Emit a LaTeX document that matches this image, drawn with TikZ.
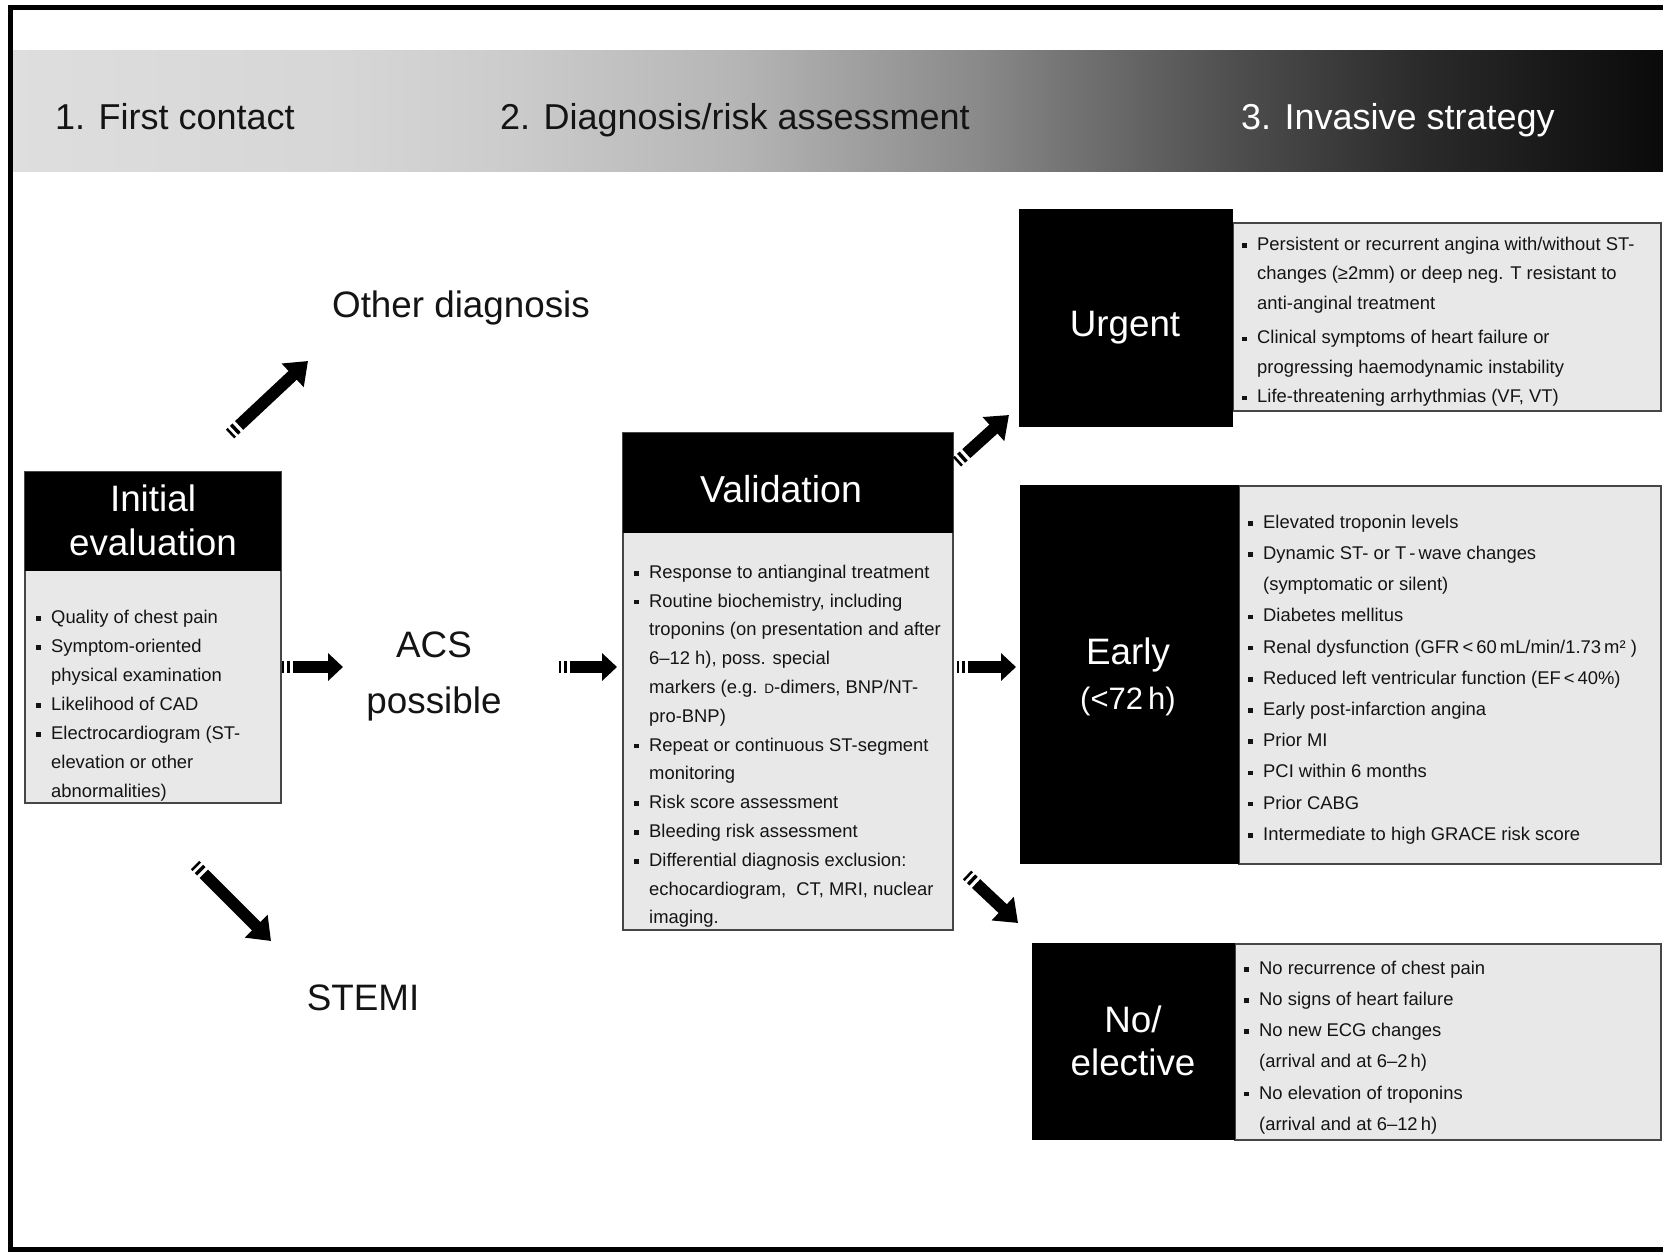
\documentclass[tikz,border=0pt]{standalone}
\usepackage{fontspec}
\setmainfont{Liberation Sans}
\usetikzlibrary{arrows.meta}
\definecolor{listfill}{RGB}{232,232,232}
\definecolor{listedge}{RGB}{70,70,70}
\definecolor{txt}{RGB}{20,20,20}
\definecolor{sA}{gray}{0.87}
\definecolor{sB}{gray}{0.84}
\definecolor{sC}{gray}{0.80}
\definecolor{sD}{gray}{0.71}
\definecolor{sE}{gray}{0.54}
\definecolor{sF}{gray}{0.46}
\definecolor{sG}{gray}{0.30}
\definecolor{sH}{gray}{0.17}
\definecolor{sI}{gray}{0.09}
\definecolor{sJ}{gray}{0.04}
\pgfdeclarehorizontalshading{band}{100bp}{color(0bp)=(sA); color(25bp)=(sA); color(35bp)=(sB); color(40bp)=(sC); color(47bp)=(sD); color(54.25bp)=(sE); color(56.75bp)=(sF); color(62.25bp)=(sG); color(67.5bp)=(sH); color(72bp)=(sI); color(75bp)=(sJ); color(100bp)=(sJ)}
\newcommand\blt{\makebox[15pt][l]{\rule[2.6pt]{4.6pt}{4.6pt}}}
\newcommand\cnt{\hspace*{15pt}}
\newcommand\sq{\rule{0pt}{15pt}}
\tikzset{
  bandtxt/.style={font=\fontsize{36}{45}\selectfont, inner sep=0pt, anchor=base west, text=txt},
  bigtxt/.style={font=\fontsize{36.8}{45}\selectfont, inner sep=0pt, anchor=base, text=txt},
  blackbox/.style={fill=black, inner sep=0pt, outer sep=0pt, anchor=north west},
  listbox/.style={fill=listfill, draw=listedge, line width=1.5pt, inner sep=0pt, outer sep=0pt, anchor=north west},
  listtxt/.style={font=\fontsize{18.4}{28.8}\selectfont, align=left, inner sep=0pt, anchor=north west, text=txt},
  fat/.style={line width=11.5pt, line cap=butt, -{Triangle[length=15pt,width=27pt]},
    dash pattern=on 2pt off 2.5pt on 3pt off 3pt on 400pt},
  fatdiag/.style={line width=12pt, line cap=butt, -{Triangle[length=21pt,width=31pt]},
    dash pattern=on 2.5pt off 3pt on 3.5pt off 3.5pt on 400pt}
}
\begin{document}
\begin{tikzpicture}[x=1pt,y=-1pt]
\useasboundingbox (0,0) rectangle (1663,1255);
\fill[white] (0,0) rectangle (1663,1255);
% header band
\shade[shading=band] (12,51) rectangle (1663,171);
\node[bandtxt] (h1) at (55,129) {1. First contact};
\node[bandtxt] (h2) at (500,129) {2. Diagnosis/risk assessment};
\node[bandtxt, text=white] (h3) at (1241,129) {3. Invasive strategy};
% frame
\draw[line width=5pt, line join=miter] (1663,7.5) -- (10.5,7.5) -- (10.5,1249) -- (1663,1249);

% Initial evaluation
\node[listbox, minimum width=256pt, minimum height=331pt] (ieBody) at (25,472) {};
\node[blackbox, minimum width=256pt, minimum height=99pt] (ieHead) at (25,472) {};
\node[bigtxt, text=white] (ieT1) at (153,511) {Initial};
\node[bigtxt, text=white] (ieT2) at (153,555) {evaluation};
\node[listtxt, font=\fontsize{18.4}{29}\selectfont] (ieList) at (36,608) {\sq\blt Quality of chest pain\\
\blt Symptom-oriented\\
\cnt physical examination\\
\blt Likelihood of CAD\\
\blt Electrocardiogram (ST-\\
\cnt elevation or other\\
\cnt abnormalities)};

% middle labels
\node[bigtxt] (other) at (461,317) {Other diagnosis};
\node[bigtxt] (acs1) at (434,657) {ACS};
\node[bigtxt] (acs2) at (434,713) {possible};
\node[bigtxt] (stemi) at (363,1010) {STEMI};

% Validation
\node[listbox, minimum width=330pt, minimum height=497pt] (vBody) at (623,433) {};
\node[blackbox, minimum width=330pt, minimum height=100pt] (vHead) at (623,433) {};
\node[bigtxt, text=white, font=\fontsize{37.5}{45}\selectfont] (vT) at (781,502) {Validation};
\node[listtxt] (vList) at (634,563) {\sq\blt Response to antianginal treatment\\
\blt Routine biochemistry, including\\
\cnt troponins (on presentation and after\\
\cnt 6–12 h), poss. special\\
\cnt markers (e.g. {\fontsize{13.5}{13.5}\selectfont D}-dimers, BNP/NT-\\
\cnt pro-BNP)\\
\blt Repeat or continuous ST-segment\\
\cnt monitoring\\
\blt Risk score assessment\\
\blt Bleeding risk assessment\\
\blt Differential diagnosis exclusion:\\
\cnt echocardiogram,\ \ CT, MRI, nuclear\\
\cnt imaging.};

% Urgent
\node[listbox, minimum width=428pt, minimum height=188pt] (uBody) at (1233,223) {};
\node[blackbox, minimum width=214pt, minimum height=218pt] (uHead) at (1019,209) {};
\node[bigtxt, text=white] (uT) at (1125,336) {Urgent};
\node[listtxt, font=\fontsize{18.4}{29.5}\selectfont] (uList) at (1242,235) {\sq\blt Persistent or recurrent angina with/without ST-\\
\cnt changes (≥2mm) or deep neg. T resistant to\\
\cnt anti-anginal treatment\\[5pt]
\blt Clinical symptoms of heart failure or\\
\cnt progressing haemodynamic instability\\
\blt Life-threatening arrhythmias (VF, VT)};

% Early
\node[listbox, minimum width=422pt, minimum height=378pt] (eBody) at (1239,486) {};
\node[blackbox, minimum width=219pt, minimum height=379pt] (eHead) at (1020,485) {};
\node[bigtxt, text=white] (eT1) at (1128,664) {Early};
\node[bigtxt, text=white, font=\fontsize{31}{40}\selectfont] (eT2) at (1128,709) {(<72\,h)};
\node[listtxt, font=\fontsize{18.4}{31.2}\selectfont] (eList) at (1248,513) {\sq\blt Elevated troponin levels\\
\blt Dynamic ST- or T\,-\,wave changes\\
\cnt (symptomatic or silent)\\
\blt Diabetes mellitus\\
\blt Renal dysfunction (GFR\,<\,60\,mL/min/1.73\,m² )\\
\blt Reduced left ventricular function (EF\,<\,40\%)\\
\blt Early post-infarction angina\\
\blt Prior MI\\
\blt PCI within 6 months\\
\blt Prior CABG\\
\blt Intermediate to high GRACE risk score};

% No / elective
\node[listbox, minimum width=426pt, minimum height=196pt] (nBody) at (1235,944) {};
\node[blackbox, minimum width=203pt, minimum height=197pt] (nHead) at (1032,943) {};
\node[bigtxt, text=white] (nT1) at (1133,1032) {No/};
\node[bigtxt, text=white] (nT2) at (1133,1075) {elective};
\node[listtxt, font=\fontsize{18.4}{31.2}\selectfont] (nList) at (1244,959) {\sq\blt No recurrence of chest pain\\
\blt No signs of heart failure\\
\blt No new ECG changes\\
\cnt (arrival and at 6–2\,h)\\
\blt No elevation of troponins\\
\cnt (arrival and at 6–12\,h)};

% arrows
\coordinate (a1s) at (230,434); \coordinate (a1e) at (308,361);
\coordinate (a2s) at (282,667); \coordinate (a2e) at (343,667);
\coordinate (a3s) at (195,865); \coordinate (a3e) at (271,941);
\coordinate (a4s) at (559,667); \coordinate (a4e) at (617,667);
\coordinate (a5s) at (957,462); \coordinate (a5e) at (1009,415);
\coordinate (a6s) at (957,667); \coordinate (a6e) at (1016,667);
\coordinate (a7s) at (967,875); \coordinate (a7e) at (1018,923);
\draw[fatdiag] (a1s) -- (a1e);
\draw[fat] (a2s) -- (a2e);
\draw[fatdiag] (a3s) -- (a3e);
\draw[fat] (a4s) -- (a4e);
\draw[fatdiag] (a5s) -- (a5e);
\draw[fat] (a6s) -- (a6e);
\draw[fatdiag] (a7s) -- (a7e);
\end{tikzpicture}
\end{document}
